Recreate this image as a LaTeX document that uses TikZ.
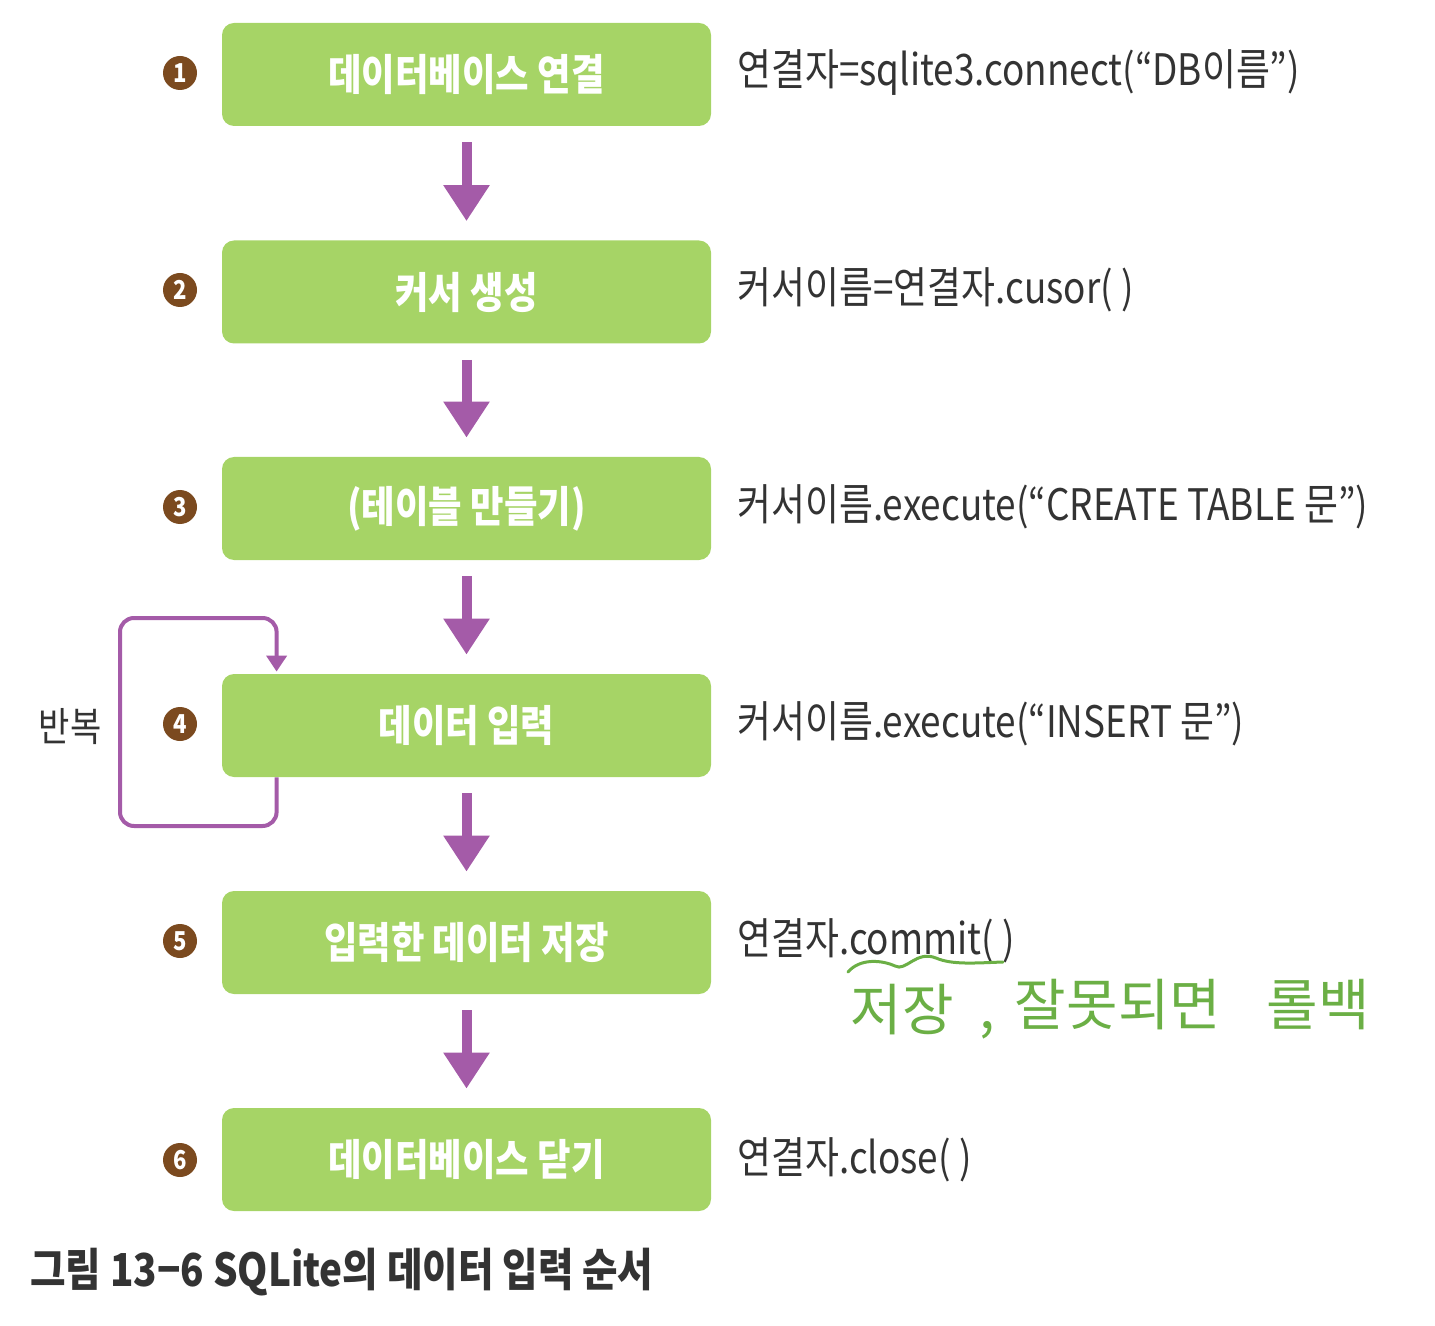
\documentclass[tikz,border=0pt]{standalone}
\usepackage{fontspec}
\usepackage{tikz}
\usetikzlibrary{arrows.meta,positioning,calc}
\newfontfamily\krfont{Noto Sans CJK KR}[FakeStretch=0.85]
\newfontfamily\handfont{Noto Sans CJK KR}
\definecolor{boxgreen}{HTML}{A6D466}
\definecolor{arrowpurple}{HTML}{A45BA8}
\definecolor{numbrown}{HTML}{7B4A1F}
\definecolor{codegray}{HTML}{333333}
\definecolor{pengreen}{HTML}{6BAF45}

\begin{document}
\begin{tikzpicture}[x=0.5pt,y=-0.5pt,
  stepbox/.style={fill=boxgreen, rounded corners=6pt, minimum width=244.5pt, minimum height=51.5pt, inner sep=0pt, text=white, font=\krfont\bfseries\fontsize{21.4}{25}\selectfont},
  stepnum/.style={circle, fill=numbrown, minimum size=17pt, inner sep=0pt, text=white, font=\krfont\bfseries\fontsize{13}{15}\selectfont},
  codetext/.style={anchor=west, inner sep=0pt, text=codegray, font=\krfont\fontsize{21.7}{25}\selectfont},
  flow/.style={arrowpurple, line width=5pt, -{Triangle[width=22pt,length=18pt]}, shorten <=8pt, shorten >=9.5pt},
  loopline/.style={arrowpurple, line width=2pt, rounded corners=7pt, -{Triangle[width=10pt,length=8pt]}},
  hand/.style={text=pengreen, inner sep=0pt, font=\handfont\fontsize{28}{32}\selectfont}]
\useasboundingbox (0,0) rectangle (1435,1326);

% Steps
\node[stepbox] (b1) at (466.5,74.5) {데이터베이스 연결};
\node[stepbox] (b2) at (466.5,292) {커서 생성};
\node[stepbox] (b3) at (466.5,508.5) {(테이블 만들기)};
\node[stepbox] (b4) at (466.5,725.5) {데이터 입력};
\node[stepbox] (b5) at (466.5,942.5) {입력한 데이터 저장};
\node[stepbox] (b6) at (466.5,1159.5) {데이터베이스 닫기};

% Numbers
\node[stepnum] (n1) at (180,73) {1};
\node[stepnum] (n2) at (180,290) {2};
\node[stepnum] (n3) at (180,507) {3};
\node[stepnum] (n4) at (180,724) {4};
\node[stepnum] (n5) at (180,941) {5};
\node[stepnum] (n6) at (180,1160) {6};

% Code
\node[codetext] (c1) at (737,73) {연결자=sqlite3.connect(“DB이름”)};
\node[codetext] (c2) at (737,290) {커서이름=연결자.cusor( )};
\node[codetext] (c3) at (737,507) {커서이름.execute(“CREATE TABLE 문”)};
\node[codetext] (c4) at (737,724) {커서이름.execute(“INSERT 문”)};
\node[codetext] (c5) at (737,941) {연결자.commit( )};
\node[codetext] (c6) at (737,1160) {연결자.close( )};

% Arrows
\draw[flow] (b1) -- (b2);
\draw[flow] (b2) -- (b3);
\draw[flow] (b3) -- (b4);
\draw[flow] (b4) -- (b5);
\draw[flow] (b5) -- (b6);

% Repeat loop
\coordinate (loopbl) at (120,826);
\coordinate (looptl) at (120,618);
\draw[loopline] ([xshift=27.5pt]b4.south west) |- (loopbl) -- (looptl) -| ([xshift=27.5pt,yshift=1pt]b4.north west);
\node[text=codegray, font=\krfont\fontsize{20}{24}\selectfont] (rep) at (70,727) {반복};

% Notes
\draw[pengreen, line width=1.5pt, line cap=round] (848,972) .. controls (860,958) and (882,960) .. (895,966) .. controls (906,972) and (916,950) .. (936,958) .. controls (952,965) and (975,963) .. (1003,962);
\node[hand] (h1) at (902,1010) {저장};
\node[hand] (h2) at (987,1030) {,};
\node[hand] (h3) at (1118,1005) {잘못되면};
\node[hand] (h4) at (1318,1005) {롤백};

% Caption
\node[anchor=west, inner sep=0pt, text=codegray, font=\krfont\bfseries\fontsize{22.7}{26}\selectfont] (cap) at (30,1272) {그림 13−6 SQLite의 데이터 입력 순서};
\end{tikzpicture}
\end{document}
